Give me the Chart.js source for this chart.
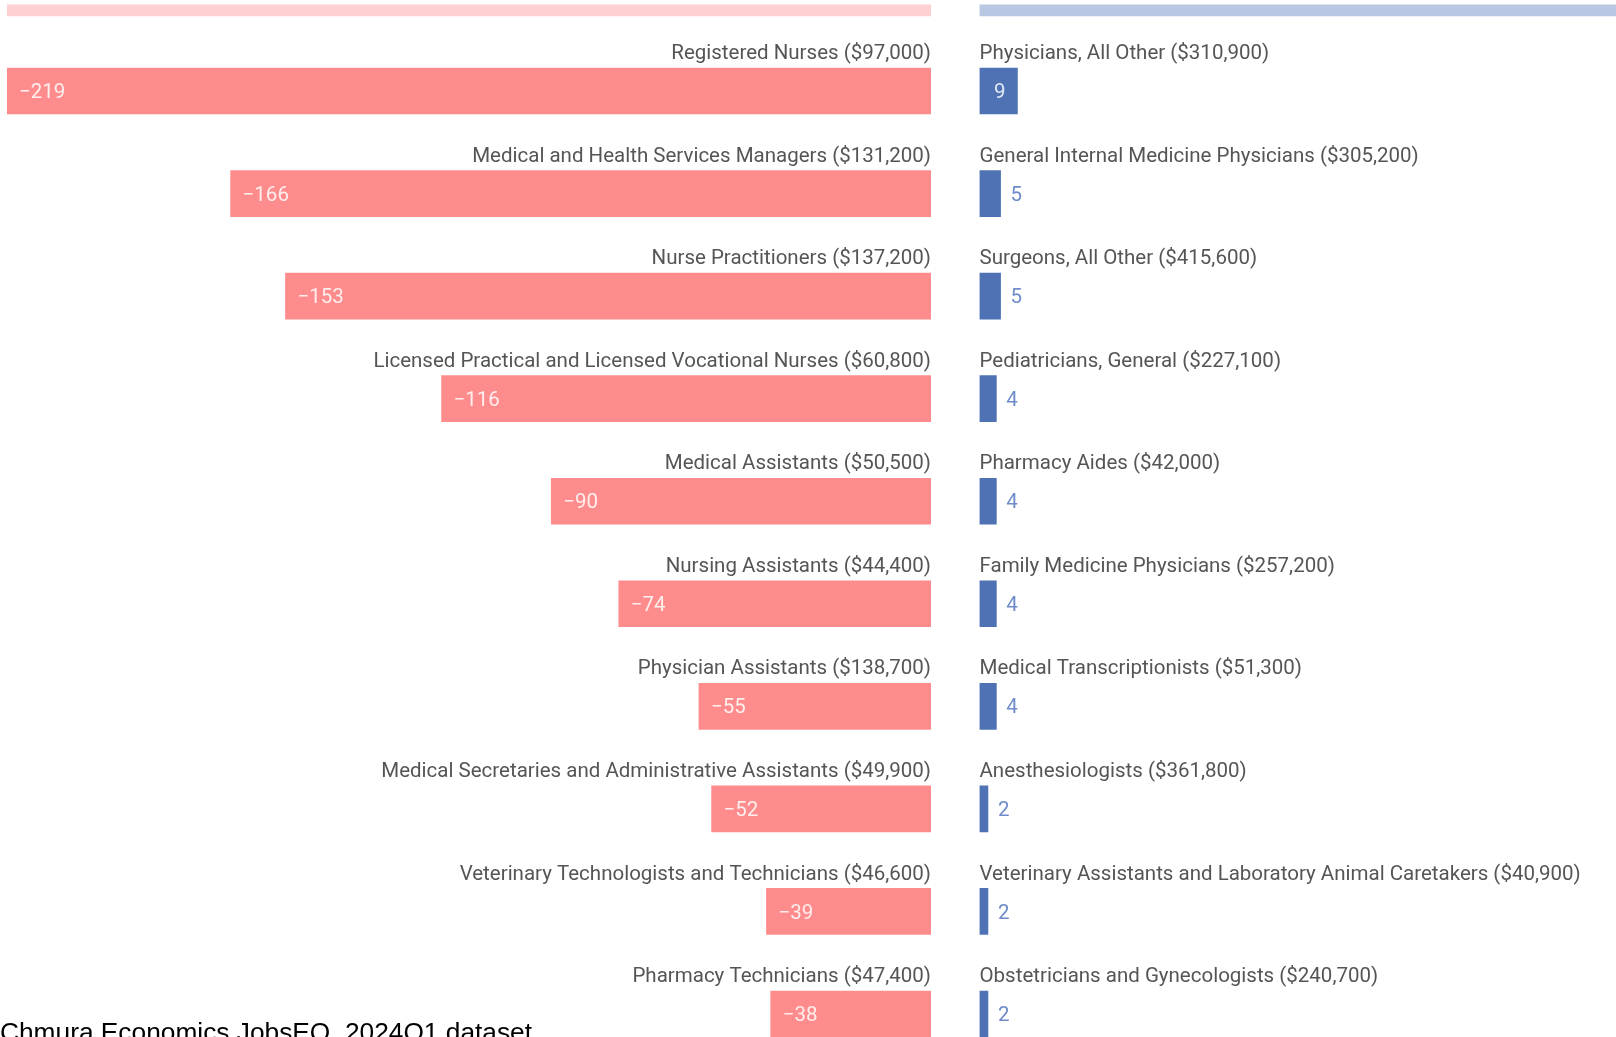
<!DOCTYPE html>
<html>
<head>
<meta charset="utf-8">
<script src="https://cdn.jsdelivr.net/npm/chart.js@4.4.1/dist/chart.umd.min.js"></script>
<style>
  html, body { margin: 0; padding: 0; background: #fff; overflow: hidden; }
  body { width: 1616px; height: 1037px; position: relative; }
  canvas { position: absolute; top: 0; }
  #left { left: 0; }
  #right { left: 955px; }
  #source {
    position: absolute; left: 0; top: 1019px;
    font: 26.3px "Liberation Sans", Arial, sans-serif; line-height: 26.3px;
    color: #000; white-space: nowrap;
  }
</style>
</head>
<body>
<canvas id="left" width="955" height="1037"></canvas>
<canvas id="right" width="661" height="1037"></canvas>
<div id="source">Chmura Economics JobsEQ, 2024Q1 dataset</div>
<script>
// declining occupations (left) and growing occupations (right)
const leftLabels = [
  'Registered Nurses ($97,000)',
  'Medical and Health Services Managers ($131,200)',
  'Nurse Practitioners ($137,200)',
  'Licensed Practical and Licensed Vocational Nurses ($60,800)',
  'Medical Assistants ($50,500)',
  'Nursing Assistants ($44,400)',
  'Physician Assistants ($138,700)',
  'Medical Secretaries and Administrative Assistants ($49,900)',
  'Veterinary Technologists and Technicians ($46,600)',
  'Pharmacy Technicians ($47,400)'
];
const leftValues = [-219, -166, -153, -116, -90, -74, -55, -52, -39, -38];

const rightLabels = [
  'Physicians, All Other ($310,900)',
  'General Internal Medicine Physicians ($305,200)',
  'Surgeons, All Other ($415,600)',
  'Pediatricians, General ($227,100)',
  'Pharmacy Aides ($42,000)',
  'Family Medicine Physicians ($257,200)',
  'Medical Transcriptionists ($51,300)',
  'Anesthesiologists ($361,800)',
  'Veterinary Assistants and Laboratory Animal Caretakers ($40,900)',
  'Obstetricians and Gynecologists ($240,700)'
];
const rightValues = [9, 5, 5, 4, 4, 4, 4, 2, 2, 2];

// header bars at the top (mostly scrolled out of view)
const leftHeader = [-219];
const rightHeader = [151];

const FONT = '20.5px Roboto, "Noto Sans", sans-serif';
const ROW_MIN = -0.8874;
const ROW_MAX = 9.2246;
const HEADER_ROW = -0.787;

function fmtVal(v) {
  return v < 0 ? '\u2212' + Math.abs(v) : String(v);
}

const labelPlugin = {
  id: 'rowLabels',
  afterDatasetsDraw(chart, args, opts) {
    const ctx = chart.ctx;
    const meta = chart.getDatasetMeta(0);
    ctx.save();
    ctx.font = FONT;
    ctx.textBaseline = 'middle';
    meta.data.forEach((bar, i) => {
      const top = bar.y - bar.height / 2;
      // category label above the bar
      ctx.fillStyle = '#555';
      ctx.textAlign = opts.side === 'left' ? 'right' : 'left';
      ctx.fillText(opts.labels[i], bar.base, top - 14);

      // value label, inside the bar end if it fits
      const txt = fmtVal(opts.values[i]);
      const w = ctx.measureText(txt).width;
      const len = Math.abs(bar.x - bar.base);
      const dir = bar.x < bar.base ? -1 : 1;
      const ty = bar.y + 2;
      if (len >= w + 24) {
        ctx.fillStyle = 'rgba(255,255,255,0.85)';
        ctx.textAlign = dir < 0 ? 'left' : 'right';
        ctx.fillText(txt, bar.x - dir * 12, ty);
      } else {
        ctx.fillStyle = opts.outColor;
        ctx.textAlign = dir < 0 ? 'right' : 'left';
        ctx.fillText(txt, bar.x + dir * 10, ty);
      }
    });
    ctx.restore();
  }
};

function makeChart(id, side, labels, values, header, colors, padding, min, max) {
  return new Chart(document.getElementById(id).getContext('2d'), {
    type: 'bar',
    data: {
      datasets: [
        {
          data: values.map((v, i) => ({ x: v, y: i })),
          backgroundColor: colors.bar,
          barThickness: 46,
          grouped: false
        },
        {
          data: header.map(v => ({ x: v, y: HEADER_ROW })),
          backgroundColor: colors.header,
          barThickness: 11,
          grouped: false
        }
      ]
    },
    options: {
      indexAxis: 'y',
      responsive: false,
      animation: false,
      layout: { padding },
      plugins: {
        legend: { display: false },
        tooltip: { enabled: false },
        rowLabels: { side, labels, values, outColor: colors.text }
      },
      scales: {
        x: { type: 'linear', min, max, display: false, grace: 0 },
        y: { type: 'linear', min: ROW_MIN, max: ROW_MAX, reverse: true, display: false, offset: false, grace: 0 }
      }
    },
    plugins: [labelPlugin]
  });
}

makeChart('left', 'left', leftLabels, leftValues, leftHeader,
  { bar: 'rgb(255,140,140)', header: 'rgb(255,208,210)', text: 'rgb(255,140,140)' },
  { left: 7, right: 24, top: 0, bottom: 0 }, -219, 0);

makeChart('right', 'right', rightLabels, rightValues, rightHeader,
  { bar: 'rgb(78,114,180)', header: 'rgb(184,200,226)', text: 'rgb(110,140,201)' },
  { left: 24.5, right: 0, top: 0, bottom: 0 }, 0, 151);
</script>
</body>
</html>
